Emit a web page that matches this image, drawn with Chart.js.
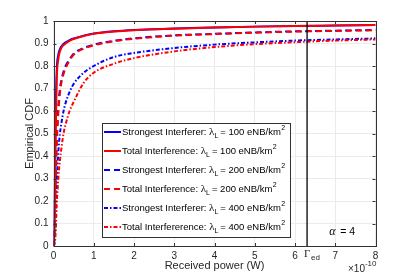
<!DOCTYPE html>
<html>
<head>
<meta charset="utf-8">
<script src="https://cdn.jsdelivr.net/npm/chart.js@4"></script>
<style>
  html, body { margin: 0; padding: 0; background: #fff; }
  #wrap { width: 415px; height: 277px; }
</style>
</head>
<body>
<div id="wrap"><canvas id="cdf" width="415" height="277"></canvas></div>
<script>
// received power grid, in units of 1e-10 W
const powerGrid = [0, 0.02, 0.05, 0.08, 0.12, 0.16, 0.2, 0.25, 0.3, 0.4, 0.5, 0.75, 1, 1.5, 2, 3, 4, 5, 6, 7, 8];

const strongest100 = [0, 0.1, 0.55, 0.78, 0.85, 0.875, 0.888, 0.898, 0.905, 0.915, 0.922, 0.935, 0.944, 0.954, 0.96, 0.967, 0.971, 0.975, 0.978, 0.98, 0.982];
const total100     = [0, 0.05, 0.45, 0.74, 0.83, 0.865, 0.882, 0.893, 0.9, 0.912, 0.92, 0.933, 0.943, 0.953, 0.959, 0.966, 0.971, 0.975, 0.978, 0.98, 0.982];
const strongest200 = [0, 0.03, 0.3, 0.48, 0.62, 0.7, 0.74, 0.775, 0.8, 0.83, 0.855, 0.88, 0.895, 0.912, 0.923, 0.936, 0.943, 0.949, 0.954, 0.957, 0.96];
const total200     = [0, 0.02, 0.25, 0.44, 0.59, 0.68, 0.73, 0.765, 0.79, 0.825, 0.85, 0.877, 0.892, 0.91, 0.921, 0.935, 0.942, 0.948, 0.953, 0.956, 0.959];
const strongest400 = [0, 0.01, 0.1, 0.28, 0.42, 0.5, 0.55, 0.6, 0.635, 0.685, 0.72, 0.77, 0.8, 0.84, 0.858, 0.88, 0.895, 0.905, 0.913, 0.918, 0.923];
const total400     = [0, 0.005, 0.05, 0.18, 0.3, 0.38, 0.44, 0.5, 0.54, 0.6, 0.64, 0.725, 0.77, 0.81, 0.835, 0.865, 0.884, 0.897, 0.906, 0.913, 0.918];

const legendNames = ['Strongest Interferer:', 'Total Interference:', 'Strongest Interferer:', 'Total Interference:', 'Strongest Interferer:', 'Total Interfererence:'];
const densities = [100, 100, 200, 200, 400, 400];
const gammaEd = 6.3;   // threshold, 1e-10 W
const xTicks = [0, 1, 2, 3, 4, 5, 6, 7, 8];

const BLUE = '#0000ff', RED = '#ff0000';
const FONT = '"Liberation Sans", Arial, Helvetica, sans-serif';
const SERIF = '"Liberation Serif", "DejaVu Serif", serif';

const pts = ys => powerGrid.map((x, i) => ({ x, y: ys[i] }));
const mk = (ys, color, dash, order) => ({
    data: pts(ys), borderColor: color, borderWidth: 2, borderDash: dash,
    pointRadius: 0, cubicInterpolationMode: 'monotone', fill: false, order
});

const series = [
    mk(strongest100, BLUE, [], 2),
    mk(total100, RED, [], 1),
    mk(strongest200, BLUE, [6, 4], 2),
    mk(total200, RED, [6, 4], 1),
    mk(strongest400, BLUE, [4, 2, 1.5, 2], 2),
    mk(total400, RED, [4, 2, 1.5, 2], 1)
];
const gammaLine = {
    data: [{ x: gammaEd, y: 0 }, { x: gammaEd, y: 1 }],
    borderColor: '#000', borderWidth: 1.3, pointRadius: 0, order: 0
};

const decor = {
    id: 'decor',
    afterDatasetsDraw(chart) {
        const { ctx, chartArea: a, scales: { x, y } } = chart;
        ctx.save();
        // legend
        const L = 102.5, T = 123.5, R = 290.5, B = 237.5;
        ctx.fillStyle = '#fff';
        ctx.fillRect(L, T, R - L, B - T);
        ctx.strokeStyle = '#333'; ctx.lineWidth = 1;
        ctx.strokeRect(L, T, R - L, B - T);
        series.forEach((ds, i) => {
            const yy = 132 + i * 19;
            ctx.strokeStyle = ds.borderColor; ctx.lineWidth = 2;
            ctx.setLineDash(ds.borderDash);
            ctx.beginPath(); ctx.moveTo(104, yy); ctx.lineTo(121, yy); ctx.stroke();
            ctx.setLineDash([]);
            ctx.fillStyle = '#000'; ctx.textBaseline = 'middle'; ctx.textAlign = 'left';
            let cx = 122;
            ctx.font = '9.5px ' + FONT;
            ctx.fillText(legendNames[i] + ' ', cx, yy);
            cx += ctx.measureText(legendNames[i] + ' ').width;
            ctx.font = '11px ' + SERIF;
            ctx.fillText('\u03bb', cx, yy);
            cx += ctx.measureText('\u03bb').width;
            ctx.font = '7px ' + FONT;
            ctx.fillText('L', cx, yy + 4);
            cx += ctx.measureText('L').width + 2;
            ctx.font = '9.5px ' + FONT;
            const s = '= ' + densities[i] + ' eNB/km';
            ctx.fillText(s, cx, yy);
            cx += ctx.measureText(s).width + 0.5;
            ctx.font = '7px ' + FONT;
            ctx.fillText('2', cx, yy - 4);
        });
        ctx.restore();
    },
    afterDraw(chart) {
        const { ctx, chartArea: a, scales: { x, y } } = chart;
        ctx.save();
        ctx.strokeStyle = '#333'; ctx.lineWidth = 1;
        ctx.strokeRect(Math.round(a.left) + 0.5, Math.round(a.top) + 0.5,
            Math.round(a.right - a.left), Math.round(a.bottom - a.top));
        ctx.beginPath();
        x.ticks.forEach(t => {
            const px = Math.round(x.getPixelForValue(t.value)) + 0.5;
            ctx.moveTo(px, a.bottom); ctx.lineTo(px, a.bottom - 3);
            ctx.moveTo(px, a.top); ctx.lineTo(px, a.top + 3);
        });
        y.ticks.forEach(t => {
            const py = Math.round(y.getPixelForValue(t.value)) + 0.5;
            ctx.moveTo(a.left, py); ctx.lineTo(a.left + 3, py);
            ctx.moveTo(a.right, py); ctx.lineTo(a.right - 3, py);
        });
        ctx.stroke();

        // Gamma_ed label under the threshold line
        const gx = x.getPixelForValue(gammaEd);
        ctx.fillStyle = '#262626'; ctx.textBaseline = 'middle';
        ctx.textAlign = 'left';
        ctx.font = '11px ' + SERIF;
        ctx.fillText('\u0393', gx - 3, a.bottom + 8);
        ctx.font = '8px ' + FONT;
        ctx.fillText('ed', gx + 4, a.bottom + 12);

        // alpha = 4
        ctx.fillStyle = '#000';
        ctx.font = 'italic 12px ' + SERIF;
        const ax = x.getPixelForValue(6.85), ay = y.getPixelForValue(0.062);
        ctx.fillText('\u03b1', ax, ay);
        ctx.font = '10.5px ' + FONT;
        ctx.fillText(' = 4', ax + ctx.measureText('\u03b1').width + 2, ay);

        // exponent
        ctx.fillStyle = '#262626';
        ctx.textAlign = 'right';
        ctx.font = '8px ' + FONT;
        ctx.fillText('-10', a.right + 1, a.bottom + 18);
        const w = ctx.measureText('-10').width;
        ctx.font = '10px ' + FONT;
        ctx.fillText('\u00d710', a.right + 1 - w, a.bottom + 23);
        ctx.restore();
    }
};

new Chart(document.getElementById('cdf'), {
    type: 'line',
    data: { datasets: [...series, gammaLine] },
    options: {
        responsive: false, animation: false,
        layout: { padding: { left: 0, top: 21, right: 39.5, bottom: 0 } },
        plugins: { legend: { display: false }, tooltip: { enabled: false } },
        scales: {
            x: {
                type: 'linear', min: 0, max: 8,
                afterBuildTicks: s => { s.ticks = xTicks.map(v => ({ value: v })); },
                afterFit: s => { s.height = 31; },
                ticks: { color: '#262626', font: { size: 10, family: FONT }, padding: 4, maxRotation: 0 },
                grid: { color: '#ebebeb', drawTicks: false },
                border: { display: false },
                title: { display: true, text: 'Received power (W)', color: '#262626', font: { size: 11, family: FONT }, padding: { top: 0, bottom: 4 } }
            },
            y: {
                min: 0, max: 1,
                afterFit: s => { s.width = 53.5; },
                ticks: { stepSize: 0.1, color: '#262626', font: { size: 10, family: FONT }, padding: 5,
                    callback: v => String(Number(v.toFixed(1))) },
                grid: { color: '#ebebeb', drawTicks: false },
                border: { display: false },
                title: { display: true, text: 'Empirical CDF', color: '#262626', font: { size: 11, family: FONT }, padding: { top: 23, bottom: 0 } }
            }
        }
    },
    plugins: [decor]
});
</script>
</body>
</html>
